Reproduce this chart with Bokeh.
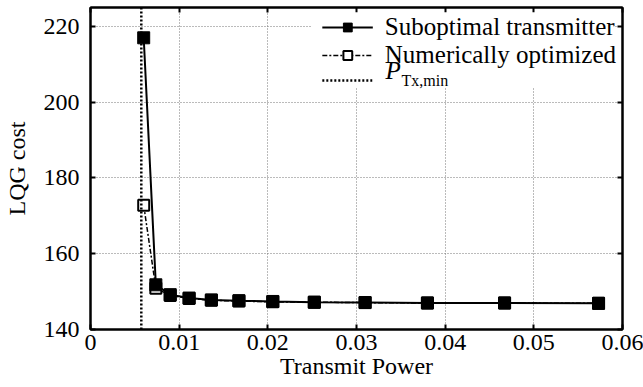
from bokeh.plotting import figure
from bokeh.models import (Legend, LegendItem, LinearAxis, Label, FixedTicker,
                          Range1d, CustomJSTickFormatter, BoxAnnotation)
from bokeh.embed import file_html
from bokeh.resources import INLINE

# ---- data ----
power = [0.00600, 0.00737, 0.00899, 0.01112, 0.01363, 0.01674,
         0.02056, 0.02524, 0.03097, 0.03800, 0.04670, 0.05730]
cost_suboptimal = [217.0, 151.8, 149.2, 148.3, 147.8, 147.6,
                   147.4, 147.2, 147.1, 147.0, 147.0, 146.9]
cost_numerical = [172.8, 150.9, 149.0, 148.2, 147.7, 147.5,
                  147.3, 147.2, 147.1, 147.0, 147.0, 146.9]
p_tx_min = 0.00573

x_ticks = [0.0, 0.01, 0.02, 0.03, 0.04, 0.05, 0.06]
y_ticks = [140, 160, 180, 200, 220]
x_lim = (0.0, 0.06)
y_lim = (140, 225)

FONT = "Liberation Serif"
FS = "24px"

p = figure(width=643, height=387, output_backend="svg", toolbar_location=None,
           x_range=Range1d(*x_lim), y_range=Range1d(*y_lim),
           min_border_left=88, min_border_right=21, min_border_top=7,
           min_border_bottom=58)

p.outline_line_color = "black"
p.outline_line_width = 2
p.background_fill_color = "white"

fmt = CustomJSTickFormatter(code="return tick == 0 ? '0' : tick.toFixed(2);")
p.xaxis.ticker = FixedTicker(ticks=x_ticks)
p.xaxis.formatter = fmt
p.yaxis.ticker = FixedTicker(ticks=y_ticks)
p.xaxis.axis_label = "Transmit Power"
p.yaxis.axis_label = "LQG cost"

for ax in (p.xaxis[0], p.yaxis[0]):
    ax.major_tick_in = 5
    ax.major_tick_out = 0
    ax.minor_tick_in = 0
    ax.minor_tick_out = 0
    ax.axis_line_color = "black"
    ax.axis_line_width = 2
    ax.major_tick_line_width = 2
    ax.major_label_text_font = FONT
    ax.major_label_text_font_size = FS
    ax.major_label_text_color = "black"
    ax.axis_label_text_font = FONT
    ax.axis_label_text_font_size = FS
    ax.axis_label_text_font_style = "normal"
    ax.axis_label_text_color = "black"
p.xaxis.major_label_standoff = 5
p.xaxis.axis_label_standoff = 0
p.yaxis.major_label_standoff = 11
p.yaxis.axis_label_standoff = 11

# mirrored ticks on top and right (no labels)
blank = CustomJSTickFormatter(code="return '';")
for loc, tick in (("above", x_ticks), ("right", y_ticks)):
    ax = LinearAxis(ticker=FixedTicker(ticks=tick), formatter=blank,
                    major_tick_in=5, major_tick_out=0,
                    minor_tick_in=0, minor_tick_out=0,
                    major_label_standoff=0, axis_line_color="black", axis_line_width=2,
                    major_tick_line_width=2)
    p.add_layout(ax, loc)

p.grid.grid_line_color = "#777777"
p.grid.grid_line_dash = "1 2"
p.grid.grid_line_width = 1
p.xgrid.ticker = FixedTicker(ticks=x_ticks)
p.ygrid.ticker = FixedTicker(ticks=y_ticks)

# series
r2 = p.line(power, cost_numerical, line_color="black", line_width=1.5, line_dash="5 2 2 2")
s2 = p.scatter(power, cost_numerical, marker="square", size=11, fill_color="white",
               line_color="black", line_width=2)
r1 = p.line(power, cost_suboptimal, line_color="black", line_width=2)
s1 = p.scatter(power, cost_suboptimal, marker="square", size=12, fill_color="black",
               line_color="black")
r3 = p.line([p_tx_min, p_tx_min], list(y_lim), line_color="black", line_width=2.5,
            line_dash="2 2")

# white background behind the legend (legend itself is transparent so the
# P_Tx,min label drawn below it stays visible)
p.add_layout(BoxAnnotation(left=0.0249, right=0.0590, bottom=203.9, top=223.7,
                           fill_color="white", fill_alpha=1.0, line_color=None))

p.add_layout(Label(x=295, y=246, x_units="screen", y_units="screen", text="P",
                   text_font=FONT, text_font_size="25px", text_font_style="italic",
                   text_color="black"))
p.add_layout(Label(x=311, y=241, x_units="screen", y_units="screen", text="Tx,min",
                   text_font=FONT, text_font_size="16px", text_color="black"))

legend = Legend(items=[
    LegendItem(label="Suboptimal transmitter", renderers=[r1, s1]),
    LegendItem(label="Numerically optimized", renderers=[r2, s2]),
    LegendItem(label=" ", renderers=[r3]),
], location="top_right")
legend.label_text_font = FONT
legend.label_text_font_size = "25px"
legend.label_text_color = "black"
legend.glyph_width = 51
legend.glyph_height = 22
legend.label_height = 22
legend.spacing = -3
legend.padding = 5
legend.margin = 6
legend.label_standoff = 12
legend.border_line_color = None
legend.background_fill_alpha = 0.0
p.add_layout(legend)

open("out.html", "w").write(file_html(p, INLINE))
